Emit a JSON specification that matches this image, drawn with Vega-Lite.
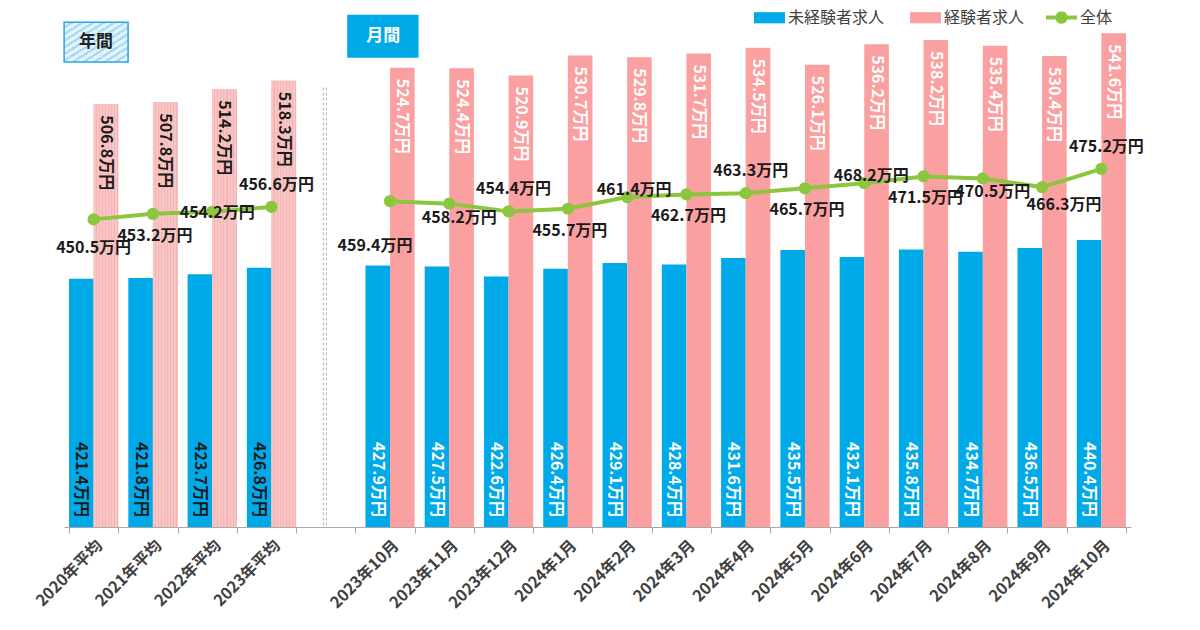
{
  "$schema": "https://vega.github.io/schema/vega-lite/v6.json",
  "width": 1067,
  "height": 511,
  "autosize": {"type": "none"},
  "padding": {"left": 64, "top": 16, "right": 69, "bottom": 103},
  "background": "white",
  "config": {
    "view": {"stroke": null},
    "font": "Noto Sans CJK JP",
    "text": {"font": "Noto Sans CJK JP"}
  },
  "datasets": {
    "salary": [
      {"period": "2020年平均", "kind": "年間", "未経験者求人": 421.4, "経験者求人": 506.8, "全体": 450.5},
      {"period": "2021年平均", "kind": "年間", "未経験者求人": 421.8, "経験者求人": 507.8, "全体": 453.2},
      {"period": "2022年平均", "kind": "年間", "未経験者求人": 423.7, "経験者求人": 514.2, "全体": 454.2},
      {"period": "2023年平均", "kind": "年間", "未経験者求人": 426.8, "経験者求人": 518.3, "全体": 456.6},
      {"period": "2023年10月", "kind": "月間", "未経験者求人": 427.9, "経験者求人": 524.7, "全体": 459.4},
      {"period": "2023年11月", "kind": "月間", "未経験者求人": 427.5, "経験者求人": 524.4, "全体": 458.2},
      {"period": "2023年12月", "kind": "月間", "未経験者求人": 422.6, "経験者求人": 520.9, "全体": 454.4},
      {"period": "2024年1月", "kind": "月間", "未経験者求人": 426.4, "経験者求人": 530.7, "全体": 455.7},
      {"period": "2024年2月", "kind": "月間", "未経験者求人": 429.1, "経験者求人": 529.8, "全体": 461.4},
      {"period": "2024年3月", "kind": "月間", "未経験者求人": 428.4, "経験者求人": 531.7, "全体": 462.7},
      {"period": "2024年4月", "kind": "月間", "未経験者求人": 431.6, "経験者求人": 534.5, "全体": 463.3},
      {"period": "2024年5月", "kind": "月間", "未経験者求人": 435.5, "経験者求人": 526.1, "全体": 465.7},
      {"period": "2024年6月", "kind": "月間", "未経験者求人": 432.1, "経験者求人": 536.2, "全体": 468.2},
      {"period": "2024年7月", "kind": "月間", "未経験者求人": 435.8, "経験者求人": 538.2, "全体": 471.5},
      {"period": "2024年8月", "kind": "月間", "未経験者求人": 434.7, "経験者求人": 535.4, "全体": 470.5},
      {"period": "2024年9月", "kind": "月間", "未経験者求人": 436.5, "経験者求人": 530.4, "全体": 466.3},
      {"period": "2024年10月", "kind": "月間", "未経験者求人": 440.4, "経験者求人": 541.6, "全体": 475.2}
    ],
    "one": [{}]
  },
  "layer": [
    {
      "data": {"name": "salary"},
      "transform": [{"fold": ["未経験者求人", "経験者求人"], "as": ["series", "value"]}],
      "mark": {"type": "bar"},
      "encoding": {
        "x": {
          "field": "period", "type": "nominal", "sort": null,
          "scale": {"domain": ["2020年平均","2021年平均","2022年平均","2023年平均"," ","2023年10月","2023年11月","2023年12月","2024年1月","2024年2月","2024年3月","2024年4月","2024年5月","2024年6月","2024年7月","2024年8月","2024年9月","2024年10月"], "paddingInner": 0.17, "paddingOuter": 0.085},
          "axis": {"title": null, "tickBand": "extent", "labelAngle": -45, "labelFontSize": 16, "labelFont": "Noto Sans CJK JP", "labelFontWeight": "bold", "labelColor": "#404040", "domainColor": "#a8a8a8", "tickColor": "#a8a8a8", "tickSize": 6, "labelPadding": 4, "grid": false}
        },
        "xOffset": {"field": "series", "type": "nominal", "scale": {"domain": ["未経験者求人", "経験者求人"], "paddingInner": 0, "paddingOuter": 0}},
        "y": {"field": "value", "type": "quantitative", "scale": {"domain": [300, 550], "zero": false, "nice": false}, "axis": null},
        "y2": {"datum": 300},
        "fill": {
          "field": "series", "type": "nominal",
          "scale": {"domain": ["未経験者求人", "経験者求人"], "range": ["#00a9e8", "#fba0a0"]},
          "legend": {"orient": "none", "legendX": 690, "legendY": -14, "direction": "horizontal", "title": null, "symbolType": "M-1,-0.36H1V0.36H-1Z", "symbolSize": 961, "symbolStrokeWidth": 0, "labelFontSize": 16, "labelFont": "Noto Sans CJK JP", "labelColor": "#404040", "labelOffset": 3, "columnPadding": 25, "padding": 0}
        }
      }
    },
    {
      "data": {"name": "salary"},
      "transform": [
        {"fold": ["未経験者求人", "経験者求人"], "as": ["series", "value"]},
        {"filter": "datum.kind === '年間' && datum.series === '経験者求人'"}
      ],
      "mark": {
        "type": "bar",
        "color": {"gradient": "linear", "x1": 0, "y1": 0, "x2": 1, "y2": 0, "stops": [
          {"offset": 0, "color": "#f9c6c6"}, {"offset": 0.08, "color": "#f9c6c6"}, {"offset": 0.08, "color": "#f5b5b5"}, {"offset": 0.125, "color": "#f5b5b5"},
          {"offset": 0.125, "color": "#f9c6c6"}, {"offset": 0.205, "color": "#f9c6c6"}, {"offset": 0.205, "color": "#f5b5b5"}, {"offset": 0.25, "color": "#f5b5b5"},
          {"offset": 0.25, "color": "#f9c6c6"}, {"offset": 0.33, "color": "#f9c6c6"}, {"offset": 0.33, "color": "#f5b5b5"}, {"offset": 0.375, "color": "#f5b5b5"},
          {"offset": 0.375, "color": "#f9c6c6"}, {"offset": 0.455, "color": "#f9c6c6"}, {"offset": 0.455, "color": "#f5b5b5"}, {"offset": 0.5, "color": "#f5b5b5"},
          {"offset": 0.5, "color": "#f9c6c6"}, {"offset": 0.58, "color": "#f9c6c6"}, {"offset": 0.58, "color": "#f5b5b5"}, {"offset": 0.625, "color": "#f5b5b5"},
          {"offset": 0.625, "color": "#f9c6c6"}, {"offset": 0.705, "color": "#f9c6c6"}, {"offset": 0.705, "color": "#f5b5b5"}, {"offset": 0.75, "color": "#f5b5b5"},
          {"offset": 0.75, "color": "#f9c6c6"}, {"offset": 0.83, "color": "#f9c6c6"}, {"offset": 0.83, "color": "#f5b5b5"}, {"offset": 0.875, "color": "#f5b5b5"},
          {"offset": 0.875, "color": "#f9c6c6"}, {"offset": 0.955, "color": "#f9c6c6"}, {"offset": 0.955, "color": "#f5b5b5"}, {"offset": 1, "color": "#f5b5b5"}
        ]}
      },
      "encoding": {
        "x": {"field": "period", "type": "nominal", "sort": null},
        "xOffset": {"field": "series", "type": "nominal"},
        "y": {"field": "value", "type": "quantitative", "axis": null},
        "y2": {"datum": 300}
      }
    },
    {
      "data": {"name": "salary"},
      "transform": [
        {"fold": ["未経験者求人", "経験者求人"], "as": ["series", "value"]},
        {"filter": "datum.series === '未経験者求人'"}
      ],
      "mark": {"type": "text", "angle": 90, "align": "right", "baseline": "middle", "dx": -10, "fontSize": 16, "fontWeight": "bold", "text": {"expr": "format(datum.value, '.1f') + '万円'"}},
      "encoding": {
        "x": {"field": "period", "type": "nominal", "sort": null},
        "xOffset": {"field": "series", "type": "nominal"},
        "y": {"datum": 300, "type": "quantitative", "axis": null},
        "color": {"condition": {"test": "datum.kind === '年間'", "value": "#1a1a1a"}, "value": "#ffffff"}
      }
    },
    {
      "data": {"name": "salary"},
      "transform": [
        {"fold": ["未経験者求人", "経験者求人"], "as": ["series", "value"]},
        {"filter": "datum.series === '経験者求人'"}
      ],
      "mark": {"type": "text", "angle": 90, "align": "left", "baseline": "middle", "dx": 11, "fontSize": 16, "fontWeight": "bold", "text": {"expr": "format(datum.value, '.1f') + '万円'"}},
      "encoding": {
        "x": {"field": "period", "type": "nominal", "sort": null},
        "xOffset": {"field": "series", "type": "nominal"},
        "y": {"field": "value", "type": "quantitative", "axis": null},
        "color": {"condition": {"test": "datum.kind === '年間'", "value": "#1a1a1a"}, "value": "#ffffff"}
      }
    },
    {
      "data": {"name": "one"},
      "mark": {"type": "rule", "color": "#b0b0b0", "strokeWidth": 1, "strokeDash": [3, 2], "xOffset": -1.5},
      "encoding": {
        "x": {"datum": " ", "type": "nominal", "bandPosition": 0.38},
        "y": {"datum": 515, "type": "quantitative", "axis": null},
        "y2": {"datum": 300}
      }
    },
    {
      "data": {"name": "one"},
      "mark": {"type": "rule", "color": "#b0b0b0", "strokeWidth": 1, "strokeDash": [3, 2], "xOffset": 1.5},
      "encoding": {
        "x": {"datum": " ", "type": "nominal", "bandPosition": 0.38},
        "y": {"datum": 515, "type": "quantitative", "axis": null},
        "y2": {"datum": 300}
      }
    },
    {
      "data": {"name": "one"},
      "mark": {
        "type": "rect", "stroke": "#2ba6de", "strokeWidth": 1.5,
        "fill": {"gradient": "linear", "x1": 0, "y1": 0, "x2": 1, "y2": 1, "stops": [
          {"offset": 0, "color": "#e2f3fb"}, {"offset": 0.05, "color": "#e2f3fb"}, {"offset": 0.05, "color": "#a6dbf2"}, {"offset": 0.0833, "color": "#a6dbf2"},
          {"offset": 0.0833, "color": "#e2f3fb"}, {"offset": 0.1333, "color": "#e2f3fb"}, {"offset": 0.1333, "color": "#a6dbf2"}, {"offset": 0.1667, "color": "#a6dbf2"},
          {"offset": 0.1667, "color": "#e2f3fb"}, {"offset": 0.2167, "color": "#e2f3fb"}, {"offset": 0.2167, "color": "#a6dbf2"}, {"offset": 0.25, "color": "#a6dbf2"},
          {"offset": 0.25, "color": "#e2f3fb"}, {"offset": 0.3, "color": "#e2f3fb"}, {"offset": 0.3, "color": "#a6dbf2"}, {"offset": 0.3333, "color": "#a6dbf2"},
          {"offset": 0.3333, "color": "#e2f3fb"}, {"offset": 0.3833, "color": "#e2f3fb"}, {"offset": 0.3833, "color": "#a6dbf2"}, {"offset": 0.4167, "color": "#a6dbf2"},
          {"offset": 0.4167, "color": "#e2f3fb"}, {"offset": 0.4667, "color": "#e2f3fb"}, {"offset": 0.4667, "color": "#a6dbf2"}, {"offset": 0.5, "color": "#a6dbf2"},
          {"offset": 0.5, "color": "#e2f3fb"}, {"offset": 0.55, "color": "#e2f3fb"}, {"offset": 0.55, "color": "#a6dbf2"}, {"offset": 0.5833, "color": "#a6dbf2"},
          {"offset": 0.5833, "color": "#e2f3fb"}, {"offset": 0.6333, "color": "#e2f3fb"}, {"offset": 0.6333, "color": "#a6dbf2"}, {"offset": 0.6667, "color": "#a6dbf2"},
          {"offset": 0.6667, "color": "#e2f3fb"}, {"offset": 0.7167, "color": "#e2f3fb"}, {"offset": 0.7167, "color": "#a6dbf2"}, {"offset": 0.75, "color": "#a6dbf2"},
          {"offset": 0.75, "color": "#e2f3fb"}, {"offset": 0.8, "color": "#e2f3fb"}, {"offset": 0.8, "color": "#a6dbf2"}, {"offset": 0.8333, "color": "#a6dbf2"},
          {"offset": 0.8333, "color": "#e2f3fb"}, {"offset": 0.8833, "color": "#e2f3fb"}, {"offset": 0.8833, "color": "#a6dbf2"}, {"offset": 0.9167, "color": "#a6dbf2"},
          {"offset": 0.9167, "color": "#e2f3fb"}, {"offset": 0.9667, "color": "#e2f3fb"}, {"offset": 0.9667, "color": "#a6dbf2"}, {"offset": 1, "color": "#a6dbf2"}
        ]}
      },
      "encoding": {
        "x": {"datum": "2020年平均", "type": "nominal", "bandPosition": -0.1},
        "x2": {"datum": "2020年平均", "bandPosition": 1.2},
        "y": {"datum": 547, "type": "quantitative", "axis": null},
        "y2": {"datum": 527.5}
      }
    },
    {
      "data": {"name": "one"},
      "mark": {"type": "text", "text": "年間", "fontSize": 17, "fontWeight": "bold", "color": "#222222", "align": "center", "baseline": "middle"},
      "encoding": {
        "x": {"datum": "2020年平均", "type": "nominal", "bandPosition": 0.55},
        "y": {"datum": 537.3, "type": "quantitative", "axis": null}
      }
    },
    {
      "data": {"name": "one"},
      "mark": {"type": "rect", "fill": "#00a9e8"},
      "encoding": {
        "x": {"datum": "2023年10月", "type": "nominal", "bandPosition": -0.37},
        "x2": {"datum": "2023年10月", "bandPosition": 1.08},
        "y": {"datum": 550.6, "type": "quantitative", "axis": null},
        "y2": {"datum": 529.6}
      }
    },
    {
      "data": {"name": "one"},
      "mark": {"type": "text", "text": "月間", "fontSize": 17, "fontWeight": "bold", "color": "#ffffff", "align": "center", "baseline": "middle"},
      "encoding": {
        "x": {"datum": "2023年10月", "type": "nominal", "bandPosition": 0.36},
        "y": {"datum": 540, "type": "quantitative", "axis": null}
      }
    },
    {
      "data": {"name": "salary"},
      "mark": {"type": "line", "strokeWidth": 4},
      "encoding": {
        "x": {"field": "period", "type": "nominal", "sort": null},
        "y": {"field": "全体", "type": "quantitative", "axis": null},
        "detail": {"field": "kind"},
        "stroke": {
          "datum": "全体",
          "scale": {"range": ["#8cc63f"]},
          "legend": {"orient": "none", "legendX": 982, "legendY": -14, "title": null, "symbolType": "M-1,-0.13H1V0.13H-1Z M-0.4,0A0.4,0.4 0 1,1 0.4,0A0.4,0.4 0 1,1 -0.4,0Z", "symbolSize": 961, "symbolStrokeWidth": 0, "symbolFillColor": "#8cc63f", "labelFontSize": 16, "labelFont": "Noto Sans CJK JP", "labelColor": "#404040", "labelOffset": 3, "padding": 0,
            "encode": {"symbols": {"update": {"fill": {"value": "#8cc63f"}, "strokeWidth": {"value": 0}}}}}
        }
      }
    },
    {
      "data": {"name": "salary"},
      "mark": {"type": "point", "filled": true, "size": 150, "color": "#8cc63f", "opacity": 1},
      "encoding": {
        "x": {"field": "period", "type": "nominal", "sort": null},
        "y": {"field": "全体", "type": "quantitative", "axis": null}
      }
    },
    {
      "data": {"name": "salary"},
      "transform": [{"filter": {"field": "period", "oneOf": ["2023年平均", "2023年12月", "2024年4月", "2024年10月"]}}],
      "mark": {"type": "text", "fontSize": 16, "fontWeight": "bold", "color": "#1a1a1a", "align": "center", "baseline": "middle", "dx": 5, "dy": -22, "text": {"expr": "format(datum['全体'], '.1f') + '万円'"}},
      "encoding": {"x": {"field": "period", "type": "nominal", "sort": null}, "y": {"field": "全体", "type": "quantitative", "axis": null}}
    },
    {
      "data": {"name": "salary"},
      "transform": [{"filter": {"field": "period", "oneOf": ["2024年2月", "2024年6月"]}}],
      "mark": {"type": "text", "fontSize": 16, "fontWeight": "bold", "color": "#1a1a1a", "align": "center", "baseline": "middle", "dx": 7, "dy": -7, "text": {"expr": "format(datum['全体'], '.1f') + '万円'"}},
      "encoding": {"x": {"field": "period", "type": "nominal", "sort": null}, "y": {"field": "全体", "type": "quantitative", "axis": null}}
    },
    {
      "data": {"name": "salary"},
      "transform": [{"filter": {"field": "period", "oneOf": ["2022年平均"]}}],
      "mark": {"type": "text", "fontSize": 16, "fontWeight": "bold", "color": "#1a1a1a", "align": "center", "baseline": "middle", "dx": 5, "dy": 1, "text": {"expr": "format(datum['全体'], '.1f') + '万円'"}},
      "encoding": {"x": {"field": "period", "type": "nominal", "sort": null}, "y": {"field": "全体", "type": "quantitative", "axis": null}}
    },
    {
      "data": {"name": "salary"},
      "transform": [{"filter": {"field": "period", "oneOf": ["2021年平均", "2024年1月", "2024年3月", "2024年5月", "2024年7月"]}}],
      "mark": {"type": "text", "fontSize": 16, "fontWeight": "bold", "color": "#1a1a1a", "align": "center", "baseline": "middle", "dx": 2, "dy": 22, "text": {"expr": "format(datum['全体'], '.1f') + '万円'"}},
      "encoding": {"x": {"field": "period", "type": "nominal", "sort": null}, "y": {"field": "全体", "type": "quantitative", "axis": null}}
    },
    {
      "data": {"name": "salary"},
      "transform": [{"filter": {"field": "period", "oneOf": ["2023年11月", "2024年8月"]}}],
      "mark": {"type": "text", "fontSize": 16, "fontWeight": "bold", "color": "#1a1a1a", "align": "center", "baseline": "middle", "dx": 10, "dy": 14, "text": {"expr": "format(datum['全体'], '.1f') + '万円'"}},
      "encoding": {"x": {"field": "period", "type": "nominal", "sort": null}, "y": {"field": "全体", "type": "quantitative", "axis": null}}
    },
    {
      "data": {"name": "salary"},
      "transform": [{"filter": {"field": "period", "oneOf": ["2024年9月"]}}],
      "mark": {"type": "text", "fontSize": 16, "fontWeight": "bold", "color": "#1a1a1a", "align": "center", "baseline": "middle", "dx": 22, "dy": 18, "text": {"expr": "format(datum['全体'], '.1f') + '万円'"}},
      "encoding": {"x": {"field": "period", "type": "nominal", "sort": null}, "y": {"field": "全体", "type": "quantitative", "axis": null}}
    },
    {
      "data": {"name": "salary"},
      "transform": [{"filter": {"field": "period", "oneOf": ["2020年平均"]}}],
      "mark": {"type": "text", "fontSize": 16, "fontWeight": "bold", "color": "#1a1a1a", "align": "center", "baseline": "middle", "dx": 0, "dy": 29, "text": {"expr": "format(datum['全体'], '.1f') + '万円'"}},
      "encoding": {"x": {"field": "period", "type": "nominal", "sort": null}, "y": {"field": "全体", "type": "quantitative", "axis": null}}
    },
    {
      "data": {"name": "salary"},
      "transform": [{"filter": {"field": "period", "oneOf": ["2023年10月"]}}],
      "mark": {"type": "text", "fontSize": 16, "fontWeight": "bold", "color": "#1a1a1a", "align": "center", "baseline": "middle", "dx": -15, "dy": 45, "text": {"expr": "format(datum['全体'], '.1f') + '万円'"}},
      "encoding": {"x": {"field": "period", "type": "nominal", "sort": null}, "y": {"field": "全体", "type": "quantitative", "axis": null}}
    }
  ]
}
